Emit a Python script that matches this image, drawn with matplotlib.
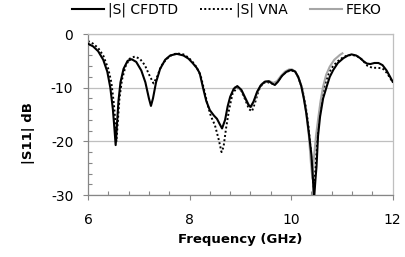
import matplotlib
matplotlib.use("Agg")
import matplotlib.pyplot as plt
from matplotlib.ticker import MultipleLocator

plt.rcParams['font.family'] = ['DejaVu Sans']

cfdtd_f = [6.00, 6.10, 6.20, 6.30, 6.38, 6.44, 6.49, 6.52, 6.545, 6.57, 6.60, 6.64, 6.70, 6.78, 6.86,
           6.95, 7.05, 7.13, 7.20, 7.24, 7.28, 7.34, 7.42, 7.52, 7.62, 7.75, 7.88, 7.98, 8.06, 8.14,
           8.20, 8.27, 8.33, 8.40, 8.48, 8.54, 8.60, 8.64, 8.70, 8.75, 8.80, 8.87, 8.94, 9.02, 9.10,
           9.16, 9.20, 9.26, 9.33, 9.40, 9.48, 9.56, 9.62, 9.68, 9.74, 9.82, 9.90, 9.96, 10.01, 10.08,
           10.14, 10.20, 10.25, 10.30, 10.35, 10.40, 10.43, 10.45, 10.48, 10.50, 10.53, 10.57, 10.63,
           10.70, 10.76, 10.83, 10.92, 11.03, 11.12, 11.19, 11.28, 11.36, 11.43, 11.49, 11.56, 11.64,
           11.72, 11.80, 11.88, 11.95, 12.00]
cfdtd_db = [-1.8, -2.3, -3.2, -4.8, -7.0, -10.0, -14.0, -17.5, -20.7, -17.0, -12.5, -9.0, -6.5, -5.0, -4.7,
            -5.2, -6.8, -9.0, -12.0, -13.4, -12.0, -9.0, -6.5, -4.8, -4.0, -3.7, -4.0, -4.6, -5.4, -6.3,
            -7.3, -10.2, -12.5, -14.2, -15.2, -15.8, -16.9, -17.6, -16.0, -13.5, -11.7, -10.2, -9.7, -10.4, -12.0,
            -13.2, -13.6, -12.6, -10.8, -9.6, -8.9, -8.8, -9.2, -9.5, -8.9, -7.8, -7.1, -6.8, -6.7, -7.0,
            -8.0, -9.7, -12.0, -14.8, -18.5, -22.5, -27.0, -31.0, -27.0, -24.7, -19.0, -15.4, -12.0,
            -9.8, -8.0, -6.7, -5.4, -4.5, -4.0, -3.8, -4.0, -4.5, -5.1, -5.5, -5.6, -5.4,
            -5.4, -5.8, -6.8, -8.0, -8.9]

vna_f = [6.00, 6.10, 6.20, 6.30, 6.40, 6.46, 6.51, 6.54, 6.56, 6.59, 6.62, 6.67, 6.74, 6.82, 6.92,
         7.02, 7.12, 7.20, 7.29, 7.36, 7.44, 7.54, 7.65, 7.75, 7.88, 7.98, 8.06, 8.14, 8.22, 8.29,
         8.35, 8.42, 8.50, 8.57, 8.63, 8.67, 8.72, 8.78, 8.85, 8.94, 9.02, 9.10, 9.17, 9.23, 9.29,
         9.36, 9.44, 9.52, 9.60, 9.67, 9.75, 9.83, 9.92, 10.00, 10.08, 10.15, 10.22, 10.28, 10.34,
         10.38, 10.42, 10.45, 10.48, 10.51, 10.55, 10.60, 10.66, 10.73, 10.80, 10.90, 11.00, 11.10,
         11.20, 11.30, 11.40, 11.50, 11.60, 11.70, 11.80, 11.88, 11.95, 12.00]
vna_db = [-1.3, -1.8, -2.6, -4.0, -6.5, -9.0, -13.0, -16.5, -20.0, -16.0, -12.0, -8.5, -6.0, -4.6, -4.2,
          -4.6, -5.8, -7.5, -9.2, -8.0, -6.0, -4.7, -3.9, -3.6, -3.8, -4.4, -5.2, -6.2, -7.8, -10.5,
          -13.0, -15.3, -17.0, -19.5, -22.0, -21.0, -17.5, -14.0, -11.0, -10.0, -10.6, -12.3, -14.0, -14.4, -12.8,
          -10.5, -9.2, -8.9, -9.2, -9.3, -8.7, -7.6, -7.0, -6.8, -7.0, -8.3, -10.2, -13.0, -17.0,
          -21.0, -26.0, -29.0, -25.0, -20.0, -15.5, -12.0, -9.6, -7.6, -6.3, -5.2, -4.5, -4.0,
          -3.9, -4.1, -4.8, -5.9, -6.3, -6.3, -6.4, -7.2, -8.2, -9.0]

feko_f = [8.90, 8.96, 9.04, 9.12, 9.18, 9.22, 9.28, 9.34, 9.42, 9.50, 9.58, 9.65, 9.72, 9.80, 9.88,
          9.96, 10.02, 10.08, 10.14, 10.20, 10.25, 10.30, 10.35, 10.39, 10.42, 10.45, 10.49, 10.53,
          10.58, 10.63, 10.69, 10.76, 10.85, 10.96, 11.01]
feko_db = [-9.9, -10.0, -10.8, -12.3, -13.4, -13.6, -12.3, -10.6, -9.3, -8.8, -8.8, -9.1, -8.8, -7.8, -7.0,
           -6.6, -6.6, -7.0, -8.0, -9.6, -11.8, -14.8, -19.0, -24.0, -27.0, -23.0, -19.0, -16.0,
           -12.5, -9.8, -7.6, -6.1, -4.8, -3.9, -3.6]

xticks = [6, 8, 10, 12]
yticks = [0, -10, -20, -30]

fig = plt.figure(figsize=(4.06, 2.57), dpi=100)
ax = fig.add_axes([0.2167, 0.2412, 0.7505, 0.6265])

ax.plot(cfdtd_f, cfdtd_db, color='black', lw=1.5, label='|S| CFDTD', zorder=3)
ax.plot(vna_f, vna_db, color='black', lw=1.4, ls=(0, (1, 1.2)), label='|S| VNA', zorder=2)
ax.plot(feko_f, feko_db, color='#a6a6a6', lw=1.5, label='FEKO', zorder=2.5)

ax.set_xlim(6, 12)
ax.set_ylim(-30, 0)
ax.set_xticks(xticks)
ax.set_yticks(yticks)
ax.set_xticklabels([str(t) for t in xticks])
ax.set_yticklabels([str(t) for t in yticks])
ax.xaxis.set_minor_locator(MultipleLocator(0.4))
ax.yaxis.set_minor_locator(MultipleLocator(2))
ax.tick_params(axis='both', which='major', direction='out', length=3.6, width=0.8,
               color='#868686', labelsize=10)
ax.tick_params(axis='y', which='major', pad=7)
ax.tick_params(axis='x', which='major', pad=9)
ax.tick_params(axis='both', which='minor', direction='in', length=3, width=0.8, color='#868686')
ax.grid(axis='y', which='major', color='#bfbfbf', lw=0.9)
ax.set_axisbelow(True)

for s in ['left', 'bottom']:
    ax.spines[s].set_color('#868686')
    ax.spines[s].set_linewidth(0.9)
for s in ['top', 'right']:
    ax.spines[s].set_color('#bfbfbf')
    ax.spines[s].set_linewidth(0.9)

ax.set_xlabel('Frequency (GHz)', fontsize=9.5, fontweight='bold', labelpad=5)
ax.set_ylabel('|S11| dB', fontsize=9.5, fontweight='bold')
ax.yaxis.set_label_coords(-0.175, 0.385)

fig.legend(loc='center', bbox_to_anchor=(227 / 406, 1 - 10 / 257), ncol=3, frameon=False,
           fontsize=10, handlelength=2.3, handletextpad=0.3, columnspacing=1.56)

fig.savefig('out.png', dpi=100)
